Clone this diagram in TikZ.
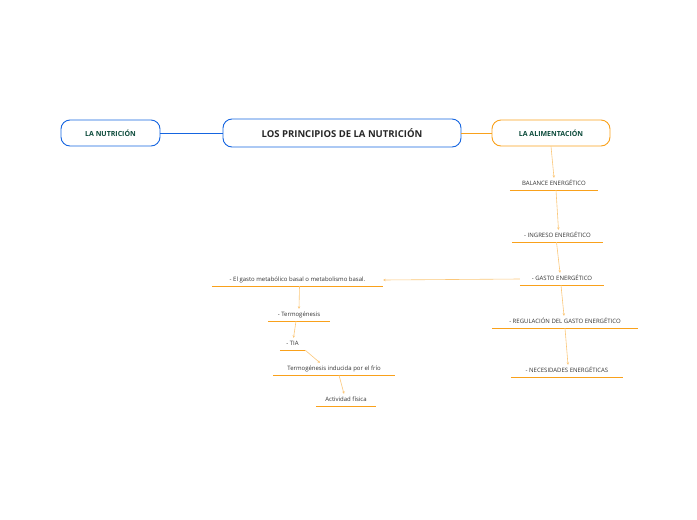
\documentclass[tikz,border=0pt]{standalone}
\usepackage{fontspec}
\setmainfont{Open Sans}
\usetikzlibrary{arrows.meta}
\definecolor{blu}{HTML}{1565E0}
\definecolor{org}{HTML}{F9A11B}
\definecolor{lorg}{HTML}{FBC77A}
\definecolor{dgreen}{HTML}{0B4A3A}
\tikzset{
 mainbox/.style={draw=blu,line width=0.9pt,rounded corners=9pt,minimum height=28pt,font=\fontsize{9.5}{11}\selectfont\bfseries,text=black!85},
 sidebox/.style={rounded corners=9pt,line width=0.9pt,minimum height=26pt,font=\fontsize{7}{8}\selectfont\bfseries,text=dgreen},
 ul/.style={inner xsep=0pt,inner ysep=2.5pt,text height=5pt,text depth=2pt,font=\fontsize{6}{7}\selectfont,text=black!80},
 ulline/.style={draw=org,line width=1.2pt},
 arr/.style={draw=lorg,line width=0.6pt,-{Stealth[length=2.5pt,width=2.5pt]}}
}
\begin{document}
\begin{tikzpicture}[x=1pt,y=-1pt]
\useasboundingbox (0,0) rectangle (697,520);
\node[mainbox,minimum width=238pt] (c) at (342,133) {LOS PRINCIPIOS DE LA NUTRICIÓN};
\node[sidebox,draw=blu,minimum width=99pt] (n) at (110.5,133) {LA NUTRICIÓN};
\node[sidebox,draw=org,minimum width=118pt] (a) at (551,133) {LA ALIMENTACIÓN};
\draw[blu,line width=0.8pt] (n.east) -- (c.west);
\draw[org,line width=0.8pt] (c.east) -- (a.west);
% underlined nodes: name, x-left, x-right, text y, text
\foreach \nm/\xl/\xr/\ty/\tx in {
 b/510/598/181/BALANCE ENERGÉTICO,
 i/512/603/233/- INGRESO ENERGÉTICO,
 g/520/604/276/- GASTO ENERGÉTICO,
 r/492/638/319/- REGULACIÓN DEL GASTO ENERGÉTICO,
 ne/511/623/368/- NECESIDADES ENERGÉTICAS,
 eg/212/383/277/- El gasto metabólico basal o metabolismo basal.,
 t/268/330/312/- Termogénesis,
 ti/280/305/341/- TIA,
 tf/273/395/366/Termogénesis inducida por el frío,
 af/316/376/397/Actividad física}{
 \pgfmathsetmacro\w{\xr-\xl}
 \node[ul,minimum width=\w pt] (\nm) at ({(\xl+\xr)/2},\ty+3) {\tx};
 \draw[ulline] (\nm.south west) -- (\nm.south east);
}
\draw[arr] (a.south) -- (b.north);
\draw[arr] ([xshift=2pt]b.south) -- ([xshift=1pt]i.north);
\draw[arr] ([xshift=-1pt]i.south) -- ([xshift=-2pt]g.north);
\draw[arr] ([xshift=-1pt]g.south) -- ([xshift=-1pt]r.north);
\draw[arr] (r.south) -- ([xshift=1pt]ne.north);
\draw[arr] (g.west) -- (eg.east);
\draw[arr] ([xshift=2pt]eg.south) -- (t.north);
\draw[arr] ([xshift=-3pt]t.south) -- ([xshift=1pt]ti.north);
\draw[arr] (ti.south east) -- ([xshift=-14pt]tf.north);
\draw[arr] ([xshift=5pt]tf.south) -- ([xshift=-2pt]af.north);
\end{tikzpicture}
\end{document}
